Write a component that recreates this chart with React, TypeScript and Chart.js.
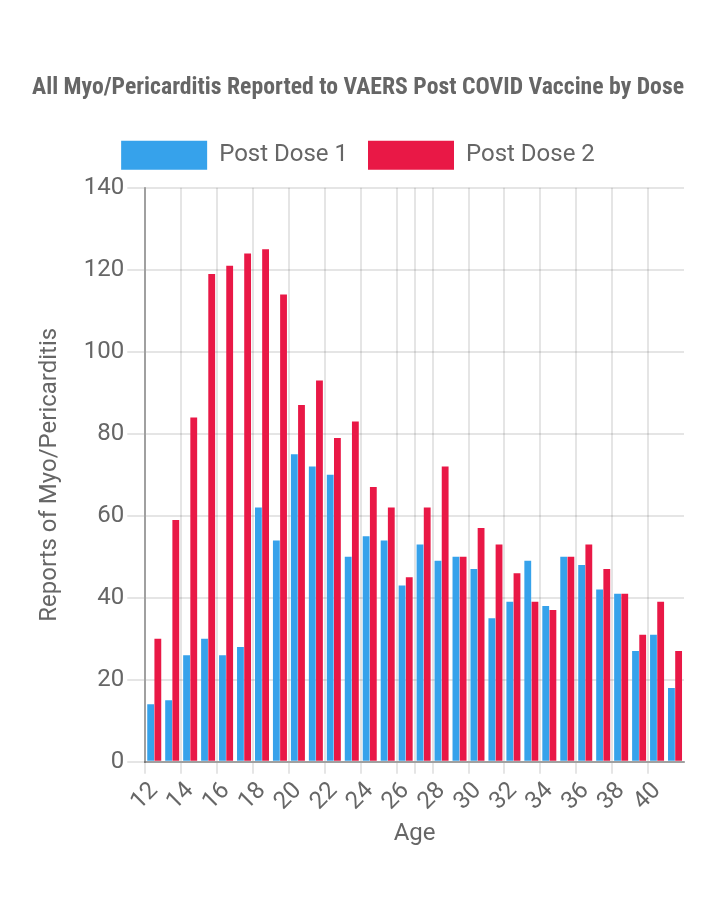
import React, { useEffect, useRef } from "react";
import { Chart, registerables } from "chart.js";

Chart.register(...registerables);

const ages = [12, 13, 14, 15, 16, 17, 18, 19, 20, 21, 22, 23, 24, 25, 26, 27, 28, 29, 30, 31, 32, 33, 34, 35, 36, 37, 38, 39, 40, 41];
const postDose1 = [14, 15, 26, 30, 26, 28, 62, 54, 75, 72, 70, 50, 55, 54, 43, 53, 49, 50, 47, 35, 39, 49, 38, 50, 48, 42, 41, 27, 31, 18];
const postDose2 = [30, 59, 84, 119, 121, 124, 125, 114, 87, 93, 79, 83, 67, 62, 45, 62, 72, 50, 57, 53, 46, 39, 37, 50, 53, 47, 41, 31, 39, 27];
const labeledAges = [12, 14, 16, 18, 20, 22, 24, 26, 28, 30, 32, 34, 36, 38, 40];
const gridAges = [12, 14, 16, 18, 20, 22, 24, 26, 27, 28, 30, 32, 34, 36, 38, 40];
const yTicks = [0, 20, 40, 60, 80, 100, 120, 140];

const BLUE = "rgb(54, 162, 235)";
const RED = "rgb(233, 24, 70)";
const TEXT = "#666";
const GRID = "rgba(0,0,0,0.1)";
const AXIS = "rgba(0,0,0,0.3)";

export default function App() {
  const ref = useRef<HTMLCanvasElement | null>(null);

  useEffect(() => {
    if (!ref.current) return;
    Chart.defaults.font.family = "Roboto";
    Chart.defaults.font.size = 24;
    Chart.defaults.color = TEXT;
    const chart = new Chart(ref.current, {
      type: "bar",
      data: {
        labels: ages.map(String),
        datasets: [
          { label: "Post Dose 1", data: postDose1, backgroundColor: BLUE, borderWidth: 0 },
          { label: "Post Dose 2", data: postDose2, backgroundColor: RED, borderWidth: 0 },
        ],
      },
      options: {
        animation: false,
        responsive: true,
        maintainAspectRatio: false,
        layout: { padding: { top: 56, left: 24, right: 28, bottom: 41 } },
        datasets: { bar: { categoryPercentage: 0.8, barPercentage: 0.95 } },
        plugins: {
          title: {
            display: true,
            text: "All Myo/Pericarditis Reported to VAERS Post COVID Vaccine by Dose",
            color: TEXT,
            font: {
              family: "'Roboto Condensed', 'Liberation Sans Narrow', 'DejaVu Sans Condensed', Roboto",
              size: 24,
              weight: "bold",
            },
            padding: { top: 10, bottom: 18 },
          },
          subtitle: {
            display: true,
            text: "",
            weight: 500,
            font: { size: 1, lineHeight: 1 },
            padding: { top: 7, bottom: 0 },
          } as any,
          legend: {
            labels: { boxWidth: 86, boxHeight: 29, padding: 20, color: TEXT, font: { size: 24 } },
          },
          tooltip: { enabled: false },
        },
        scales: {
          x: {
            title: { display: true, text: "Age", color: TEXT, font: { size: 24 }, padding: { top: 0, bottom: 4 } },
            ticks: {
              autoSkip: false,
              minRotation: 45,
              maxRotation: 45,
              color: TEXT,
              font: { size: 24 },
              callback: (_v: any, i: number) => (labeledAges.includes(ages[i]) ? String(ages[i]) : ""),
            },
            grid: {
              tickLength: 12,
              lineWidth: 2,
              color: (ctx: any) =>
                ctx.index < ages.length && gridAges.includes(ages[ctx.index]) ? GRID : "rgba(0,0,0,0)",
            },
            border: { color: AXIS, width: 2 },
          },
          y: {
            min: yTicks[0],
            max: yTicks[yTicks.length - 1],
            ticks: { stepSize: 20, color: TEXT, font: { size: 24 }, padding: 3 },
            title: {
              display: true,
              text: "Reports of Myo/Pericarditis",
              color: TEXT,
              font: { size: 24 },
              padding: { top: 4, bottom: 16 },
            },
            grid: { tickLength: 18, lineWidth: 2, color: GRID },
            border: { color: AXIS, width: 2 },
          },
        },
      },
    });
    return () => chart.destroy();
  }, []);

  return (
    <div style={{ width: 704, height: 885, position: "relative" }}>
      <canvas ref={ref} />
    </div>
  );
}
